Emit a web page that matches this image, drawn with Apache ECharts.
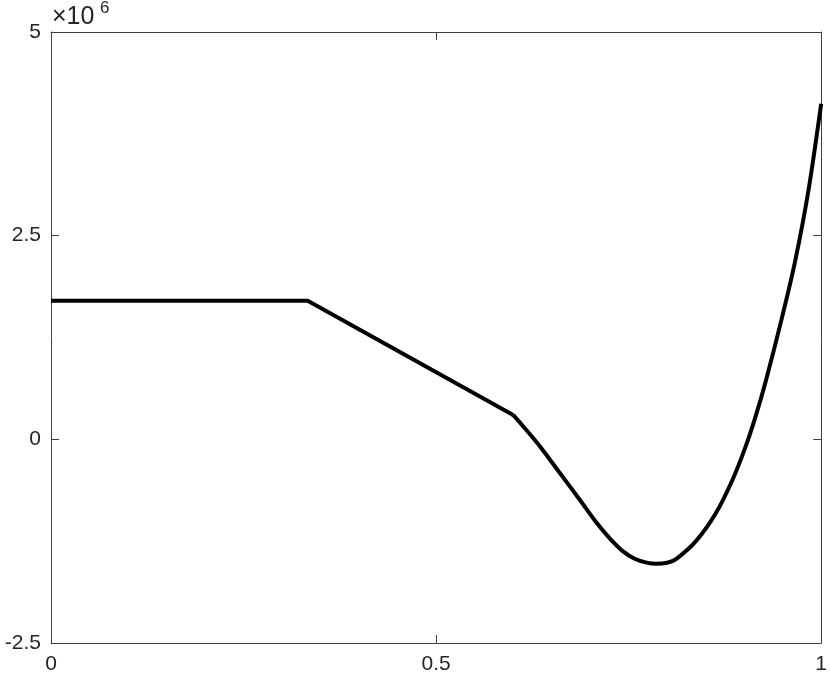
<!DOCTYPE html>
<html><head><meta charset="utf-8">
<script src="https://cdn.jsdelivr.net/npm/echarts@6/dist/echarts.min.js"></script>
<style>html,body{margin:0;padding:0;background:#fff}#c{width:830px;height:681px}</style>
</head><body><div id="c"></div>
<script>
// values in units of 1e6
const flatX = [0, 0.3333, 0.6];
const flatY = [1.70, 1.70, 0.30];
const curveX = [0.6, 0.6116, 0.6352, 0.6610, 0.6868, 0.7084, 0.7255, 0.7428, 0.7578, 0.7720, 0.7858, 0.8000, 0.8116, 0.8374, 0.8632, 0.8848, 0.9019, 0.9148, 0.9277, 0.9493, 0.9665, 0.9836, 1.0];
const curveY = [0.30, 0.176, -0.090, -0.417, -0.745, -1.025, -1.215, -1.375, -1.465, -1.510, -1.528, -1.515, -1.470, -1.250, -0.908, -0.499, -0.090, 0.278, 0.70, 1.50, 2.20, 3.06, 4.12];
const xTicks = [0, 0.5, 1];
const yTicks = [-2.5, 0, 2.5, 5];

const axisColor = '#404040';
const font = 'Liberation Sans, Arial, sans-serif';
const chart = echarts.init(document.getElementById('c'));
const fmt = v => (Math.abs(v) < 1e-9 ? '0' : String(v));
chart.setOption({
  animation: false,
  grid: {left: 51, right: 4, top: 32, bottom: 38},
  xAxis: [{
    type: 'value', min: 0, max: 1, interval: 0.5,
    axisLine: {show: true, onZero: false, lineStyle: {color: axisColor, width: 1}},
    axisTick: {show: true, inside: true, length: 8, lineStyle: {color: axisColor}},
    axisLabel: {color: '#262626', fontSize: 21, fontFamily: font, margin: 11, formatter: fmt},
    splitLine: {show: false}
  }, {
    type: 'value', position: 'top', min: 0, max: 1, interval: 0.5,
    axisLine: {show: true, onZero: false, lineStyle: {color: axisColor, width: 1}},
    axisTick: {show: true, inside: true, length: 8, lineStyle: {color: axisColor}},
    axisLabel: {show: false}, splitLine: {show: false}
  }],
  yAxis: [{
    type: 'value', min: -2.5, max: 5, interval: 2.5,
    axisLine: {show: true, onZero: false, lineStyle: {color: axisColor, width: 1}},
    axisTick: {show: true, inside: true, length: 8, lineStyle: {color: axisColor}},
    axisLabel: {color: '#262626', fontSize: 21, fontFamily: font, margin: 10, formatter: fmt},
    splitLine: {show: false}
  }, {
    type: 'value', position: 'right', min: -2.5, max: 5, interval: 2.5,
    axisLine: {show: true, onZero: false, lineStyle: {color: axisColor, width: 1}},
    axisTick: {show: true, inside: true, length: 8, lineStyle: {color: axisColor}},
    axisLabel: {show: false}, splitLine: {show: false}
  }],
  graphic: [{
    type: 'text', left: 52, top: 5,
    style: {text: '×10', fontSize: 25, fill: '#262626', fontFamily: font}
  }, {
    type: 'text', left: 100, top: 0,
    style: {text: '6', fontSize: 17, fill: '#262626', fontFamily: font}
  }],
  series: [{
    type: 'line', data: flatX.map((x, i) => [x, flatY[i]]),
    showSymbol: false, lineStyle: {color: '#000', width: 4}, silent: true, clip: false
  }, {
    type: 'line', data: curveX.map((x, i) => [x, curveY[i]]),
    smooth: 0.3, showSymbol: false, lineStyle: {color: '#000', width: 4}, silent: true, clip: false
  }]
});
</script></body></html>
